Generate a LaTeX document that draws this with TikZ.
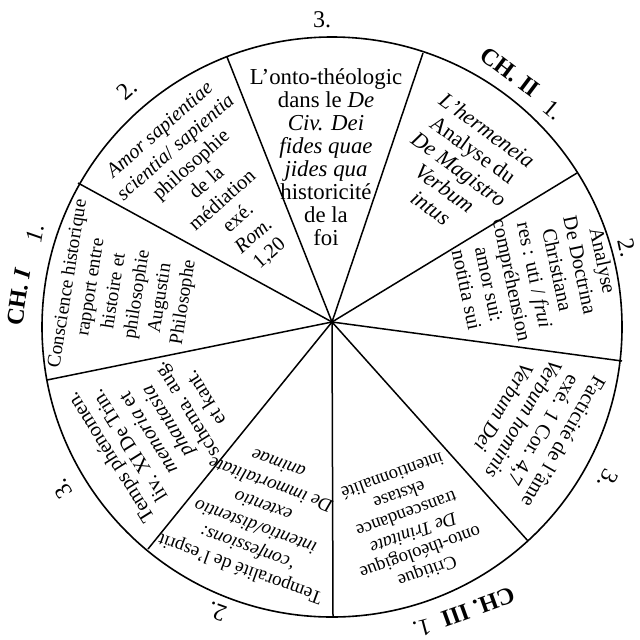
\documentclass[tikz,border=0pt]{standalone}
\usepackage{fontspec}
\setmainfont{Liberation Serif}
\begin{document}
\begin{tikzpicture}[x=0.5pt,y=0.5pt,
  rim/.style={line width=0.8pt},
  spoke/.style={line width=0.75pt},
  sect/.style={align=center,inner sep=0pt},
  outer/.style={inner sep=0pt,font=\fontsize{12}{13}\selectfont}]
\useasboundingbox (0,0) rectangle (640,639);
\coordinate (H) at (332,317);
\coordinate (C) at (332,312);
\draw[rim] (C) circle (290);
% spokes ends on the rim
\coordinate (s1) at (78,456);
\coordinate (s2) at (227,582);
\coordinate (s3) at (423,586);
\coordinate (s4) at (577,466);
\coordinate (s5) at (622,278);
\coordinate (s6) at (528,98);
\coordinate (s7) at (333,22);
\coordinate (s8) at (148,90);
\coordinate (s9) at (47,259);
\foreach \s in {s1,s2,s3,s4,s5,s6,s7,s8,s9} \draw[spoke] (H) -- (\s);
% sector texts
\node[sect,font=\fontsize{11.4}{11.5}\selectfont] (tA) at (326,482)
  {L'onto-théologic\\dans le \textit{De}\\\textit{Civ. Dei}\\\textit{fides quae}\\\textit{jides qua}\\historicité\\de la\\foi};
\node[sect,rotate=41.5,font=\fontsize{10.2}{11.8}\selectfont] (tB) at (215,447)
  {\textit{Amor sapientiae}\\\textit{scientia}/ \textit{sapientia}\\philosophie\\de la\\médiation\\exé.\\\textit{Rom.}\\1,20};
\node[sect,rotate=-36,font=\fontsize{11}{12}\selectfont] (tC) at (459,470)
  {\textit{L'hermeneia}\\Analyse du\\\textit{De Magistro}\\\textit{Verbum}\\\textit{intus}};
\node[sect,rotate=-78,font=\fontsize{10.2}{11.6}\selectfont] (tD) at (535,364)
  {Analyse\\De Doctrina\\Christiana\\res : uti / \textit{frui}\\compréhension\\amor sui:\\notitia sui};
\node[sect,rotate=-120,font=\fontsize{10.3}{11.5}\selectfont] (tE) at (534,214)
  {Facticité de l'âme\\exé. 1 Cor. 4,7\\\textit{Verbum hominis}\\\textit{Verbum Dei}};
\node[sect,rotate=-160,font=\fontsize{9.3}{10.2}\selectfont] (tF) at (410,115)
  {Critique\\onto-théologique\\\textit{De Trinitate}\\transcendance\\ekstase\\intentionnalité};
\node[sect,rotate=160,font=\fontsize{9.5}{11.2}\selectfont] (tG) at (259,122)
  {Temporalité de l'esprit\\‘\textit{confessions:}\\\textit{intentio/distentio}\\\textit{extentio}\\\textit{De immortalitate}\\\textit{animae}};
\node[sect,rotate=122,font=\fontsize{10.2}{11.2}\selectfont] (tH) at (157,211)
  {Temps phénomen.\\liv. XI De Trin.\\\textit{memoria} et\\\textit{phantasia}\\schema. aug.\\et kant.};
\node[sect,rotate=81,font=\fontsize{9.6}{11.7}\selectfont] (tI) at (126,346)
  {Conscience historique\\rapport entre\\histoire et\\philosophie\\Augustin\\Philosophe};
% outer labels
\node[outer] (n3top) at (322,619) {3.};
\node[outer,rotate=41.5] (n2ul) at (127,549) {2.};
\node[outer,rotate=81] (ch1) at (19,342) {\textbf{CH. \textit{I}}};
\node[outer,rotate=81] (ch1n) at (35,406) {\textit{1.}};
\node[outer,rotate=-37] (ch2) at (510,567) {\textbf{CH. II}};
\node[outer,rotate=-40] (ch2n) at (553,529) {1.};
\node[outer,rotate=-78] (n2r) at (627,391) {2.};
\node[outer,rotate=-118] (n3lr) at (608,160) {3.};
\node[outer,rotate=-160] (ch3) at (478,32) {\textbf{CH. III}};
\node[outer,rotate=-165] (ch3n) at (422,11) {1.};
\node[outer,rotate=160] (n2b) at (217,27) {2.};
\node[outer,rotate=122] (n3l) at (62,150) {3.};
\end{tikzpicture}
\end{document}
